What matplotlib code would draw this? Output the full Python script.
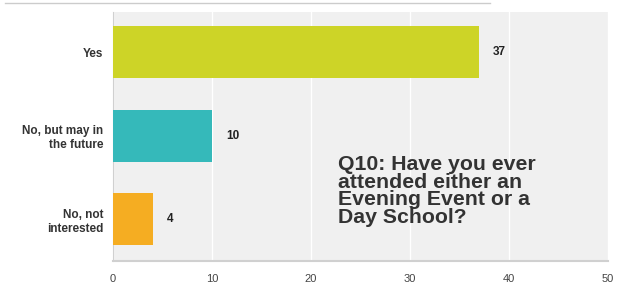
import matplotlib.pyplot as plt
from matplotlib.lines import Line2D

categories = ['Yes', 'No, but may in\nthe future', 'No, not\ninterested']
counts = [37, 10, 4]
colors = ['#cdd427', '#35b9ba', '#f5ad22']
ticks = [0, 10, 20, 30, 40, 50]
question = 'Q10: Have you ever\nattended either an\nEvening Event or a\nDay School?'

plt.rcParams['font.family'] = ['Liberation Sans', 'DejaVu Sans']

fig = plt.figure(figsize=(6.2, 2.92), dpi=100)
ax = fig.add_axes([113 / 620, 31 / 292, 495 / 620, 249 / 292])
ax.set_facecolor('#f0f0f0')

ypos = list(range(len(categories)))
ax.barh(ypos, counts, height=0.62, color=colors, zorder=3)
for y, v in zip(ypos, counts):
    ax.annotate(str(v), (v, y), xytext=(10, 0), textcoords='offset points',
                ha='left', va='center', fontsize=8.5, fontweight='bold', color='#222222')

ax.set_xlim(0, 50)
ax.set_ylim(2.5, -0.48)
ax.set_xticks(ticks)
ax.set_yticks(ypos)
ax.set_yticklabels(categories, fontsize=8.5, fontweight='bold', color='#333333')
ax.tick_params(axis='x', length=0, pad=9, labelsize=8, labelcolor='#444444')
ax.tick_params(axis='y', length=0, pad=7)
ax.grid(axis='x', color='white', linewidth=1, zorder=1)
for s in ['top', 'right']:
    ax.spines[s].set_visible(False)
ax.spines['left'].set_color('#d0d0d0')
ax.spines['bottom'].set_color('#d0d0d0')
ax.spines['bottom'].set_linewidth(1.5)

ax.text(0.455, 0.425, question, transform=ax.transAxes, ha='left', va='top',
        fontsize=15.3, fontweight='bold', color='#333333', linespacing=0.9, zorder=5)

fig.add_artist(Line2D([5 / 620, 490 / 620], [1 - 3 / 292, 1 - 3 / 292],
                      color='#cccccc', linewidth=1))

fig.savefig('out.png', dpi=100)
